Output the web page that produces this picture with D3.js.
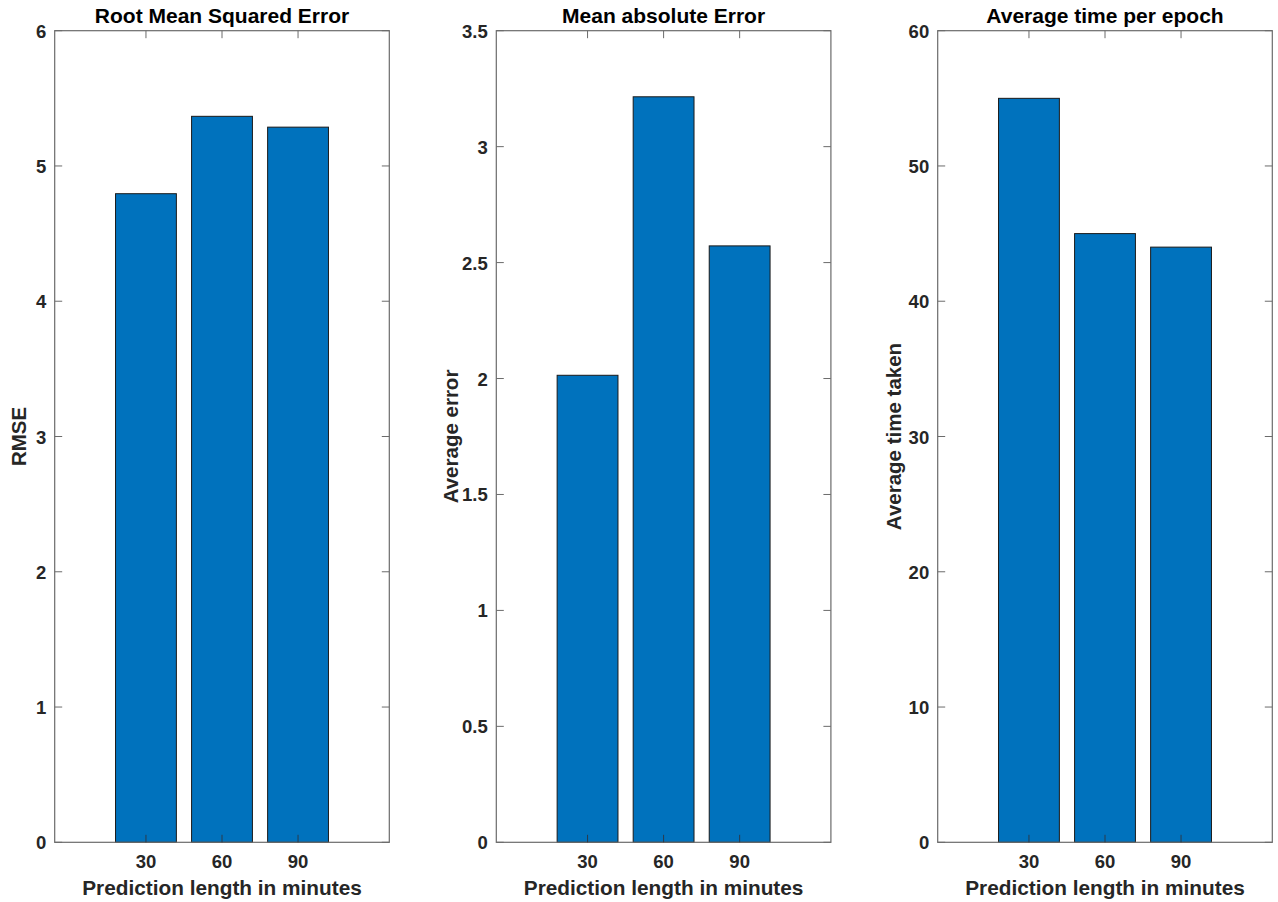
<!DOCTYPE html>
<html>
<head>
<meta charset="utf-8">
<script src="https://cdn.jsdelivr.net/npm/d3@7"></script>
<style>
html,body{margin:0;padding:0;background:#fff;}
svg{display:block;}
text{font-family:"Liberation Sans",Arial,Helvetica,sans-serif;font-weight:bold;}
</style>
</head>
<body>
<svg id="chart" width="1278" height="902"></svg>
<script>
const categories = [30, 60, 90];
const rmseValues = [4.795, 5.367, 5.287];
const maeValues = [2.014, 3.215, 2.572];
const timeValues = [55.0, 45.0, 44.0];

const panelTitles = ["Root Mean Squared Error", "Mean absolute Error", "Average time per epoch"];
const yLabels = ["RMSE", "Average error", "Average time taken"];
const xLabel = "Prediction length in minutes";
const yMaxes = [6, 3.5, 60];
const yTickValues = [
  [0, 1, 2, 3, 4, 5, 6],
  [0, 0.5, 1, 1.5, 2, 2.5, 3, 3.5],
  [0, 10, 20, 30, 40, 50, 60]
];
const seriesList = [rmseValues, maeValues, timeValues];

const svg = d3.select("#chart");
const panelLefts = [54.7, 496.3, 937.7];
const panelW = 334.6;
const plotTop = 30.7, plotBottom = 842.3;
const yLabelX = [25.5, 457.5, 900.5];
const axisColor = "#6b6b6b";
const textColor = "#262626";
const tickLen = 7.5;

seriesList.forEach((vals, i) => {
  const x0 = panelLefts[i];
  const x = d3.scaleLinear().domain([-6, 126]).range([x0, x0 + panelW]);
  const y = d3.scaleLinear().domain([0, yMaxes[i]]).range([plotBottom, plotTop]);
  const bw = (x(60) - x(30)) * 0.8;
  const g = svg.append("g");

  g.selectAll("rect.bar").data(vals).enter().append("rect")
    .attr("class", "bar")
    .attr("x", (d, j) => x(categories[j]) - bw / 2)
    .attr("width", bw)
    .attr("y", d => y(d))
    .attr("height", d => y(0) - y(d))
    .attr("fill", "#0072BD")
    .attr("stroke", "#1a1a1a")
    .attr("stroke-width", 1);

  g.append("rect")
    .attr("x", x0).attr("y", plotTop)
    .attr("width", panelW).attr("height", plotBottom - plotTop)
    .attr("fill", "none").attr("stroke", axisColor).attr("stroke-width", 1.2);

  categories.forEach(c => {
    g.append("line").attr("x1", x(c)).attr("x2", x(c))
      .attr("y1", plotBottom).attr("y2", plotBottom - tickLen)
      .attr("stroke", "#2a3a4a").attr("stroke-width", 1);
    g.append("line").attr("x1", x(c)).attr("x2", x(c))
      .attr("y1", plotTop).attr("y2", plotTop + tickLen)
      .attr("stroke", axisColor).attr("stroke-width", 1);
  });
  g.selectAll("text.xt").data(categories).enter().append("text")
    .attr("class", "xt")
    .attr("x", d => x(d)).attr("y", 868)
    .attr("text-anchor", "middle")
    .attr("font-size", 18.5).attr("fill", textColor)
    .text(d => d);

  yTickValues[i].forEach(t => {
    g.append("line").attr("x1", x0).attr("x2", x0 + tickLen)
      .attr("y1", y(t)).attr("y2", y(t))
      .attr("stroke", axisColor).attr("stroke-width", 1);
    g.append("line").attr("x1", x0 + panelW).attr("x2", x0 + panelW - tickLen)
      .attr("y1", y(t)).attr("y2", y(t))
      .attr("stroke", axisColor).attr("stroke-width", 1);
  });
  g.selectAll("text.yt").data(yTickValues[i]).enter().append("text")
    .attr("class", "yt")
    .attr("x", x0 - 8.5).attr("y", d => y(d) + 7)
    .attr("text-anchor", "end")
    .attr("font-size", 18.5).attr("fill", textColor)
    .text(d => d);

  g.append("text")
    .attr("x", x0 + panelW / 2).attr("y", 23.3)
    .attr("text-anchor", "middle")
    .attr("font-size", 21).attr("fill", "#000")
    .text(panelTitles[i]);

  g.append("text")
    .attr("x", x0 + panelW / 2).attr("y", 895)
    .attr("text-anchor", "middle")
    .attr("font-size", 20.8).attr("fill", textColor)
    .text(xLabel);

  g.append("text")
    .attr("transform", `translate(${yLabelX[i]},${(plotTop + plotBottom) / 2}) rotate(-90)`)
    .attr("text-anchor", "middle")
    .attr("font-size", 20.5).attr("fill", textColor)
    .text(yLabels[i]);
});
</script>
</body>
</html>
